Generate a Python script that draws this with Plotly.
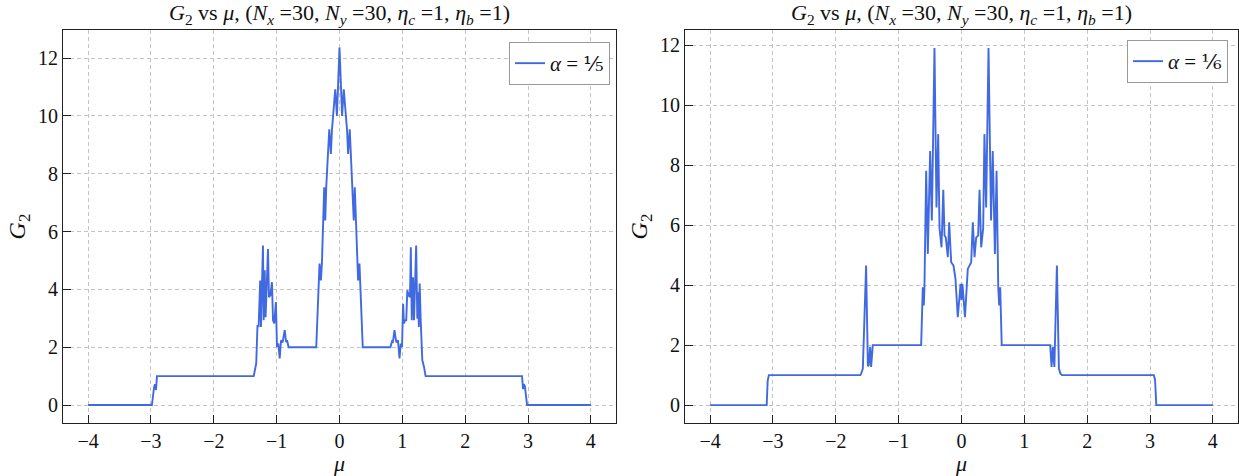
import plotly.graph_objects as go

# ---- data: alpha = 1/5 (left panel) ----
mu_a5 = [-4.0, -2.985, -2.95, -2.935, -2.92, -2.905,
         -1.365, -1.325, -1.305, -1.287, -1.262, -1.25, -1.218, -1.207, -1.19, -1.176,
         -1.155, -1.138, -1.122, -1.10, -1.075, -1.058, -1.038, -1.012, -0.995, -0.973,
         -0.952, -0.93, -0.905, -0.888, -0.872, -0.85, -0.835, -0.81,
         -0.37, -0.318, -0.296, -0.28, -0.243, -0.227, -0.211, -0.163, -0.137, -0.121,
         -0.068, -0.041, 0.0, 0.041, 0.068, 0.121, 0.137, 0.163, 0.211, 0.227, 0.243,
         0.28, 0.296, 0.318, 0.37,
         0.81, 0.835, 0.85, 0.875, 0.89, 0.905, 0.93, 0.955, 0.975, 0.995, 1.012, 1.026,
         1.042, 1.062, 1.079, 1.10, 1.122, 1.135, 1.15, 1.17, 1.186, 1.22, 1.238, 1.254,
         1.262, 1.276, 1.292, 1.318, 1.345, 1.37,
         2.905, 2.92, 2.935, 2.95, 2.985, 4.0]
g_a5 = [0.0, 0.0, 0.63, 0.72, 0.52, 1.0,
        1.0, 1.44, 2.76, 2.70, 4.31, 2.70, 5.52, 2.93, 4.66, 3.04,
        4.31, 5.40, 3.73, 3.79, 4.25, 2.93, 2.82, 3.56, 2.01, 2.13,
        1.61, 2.24, 2.17, 2.36, 2.59, 2.18, 2.24, 2.0,
        2.0, 4.89, 4.31, 4.89, 7.53, 6.38, 7.53, 9.54, 8.68, 9.48,
        10.92, 10.0, 12.36, 10.0, 10.92, 9.48, 8.68, 9.54, 7.53, 6.38, 7.53,
        4.89, 4.31, 4.89, 2.0,
        2.0, 2.2, 2.18, 2.59, 2.36, 2.17, 2.24, 1.61, 2.13, 2.01, 3.5, 2.82,
        2.93, 2.93, 3.97, 3.79, 3.73, 5.46, 2.93, 4.42, 2.93, 5.52, 2.99, 3.9,
        2.70, 4.2, 2.93, 1.55, 1.32, 1.0,
        1.0, 0.55, 0.72, 0.65, 0.0, 0.0]

# ---- data: alpha = 1/6 (right panel) ----
mu_a6 = [-4.0, -3.10, -3.085, -3.065, -1.61, -1.597, -1.57, -1.518, -1.49, -1.476,
         -1.454, -1.438, -1.412, -0.642, -0.616, -0.60, -0.59, -0.562, -0.536, -0.499,
         -0.472, -0.43, -0.398, -0.371, -0.35, -0.318, -0.29, -0.27, -0.25, -0.218,
         -0.196, -0.164, -0.127, -0.096, -0.059, -0.015, 0.0, 0.015, 0.055, 0.10,
         0.127, 0.154, 0.18, 0.207, 0.234, 0.265, 0.287, 0.313, 0.345, 0.365, 0.392,
         0.43, 0.47, 0.497, 0.532, 0.558, 0.585, 0.60, 0.616, 0.64, 1.412, 1.433,
         1.454, 1.478, 1.518, 1.55, 1.575, 1.60, 3.06, 3.08, 3.10, 4.0]
g_a6 = [0.0, 0.0, 0.8, 1.0, 1.0, 1.05, 1.22, 4.65, 1.3, 1.33,
        1.94, 1.27, 2.0, 2.0, 3.93, 3.32, 3.9, 7.81, 5.04, 8.47,
        6.15, 11.9, 6.59, 9.03, 5.9, 5.26, 7.18, 5.65, 5.59, 4.93,
        6.09, 4.76, 4.65, 4.21, 2.93, 4.04, 3.5, 4.04, 2.93, 4.54,
        4.65, 4.76, 6.09, 4.93, 5.59, 5.65, 7.18, 5.26, 5.9, 9.03, 6.59,
        11.9, 6.15, 8.47, 5.04, 7.81, 3.9, 3.32, 3.93, 2.0, 2.0, 1.27,
        1.94, 1.27, 4.65, 1.22, 1.05, 1.0, 1.0, 0.85, 0.0, 0.0]

x_ticks = [-4, -3, -2, -1, 0, 1, 2, 3, 4]
y_ticks = [0, 2, 4, 6, 8, 10, 12]

BLUE = "#4169E1"
FONT = "Liberation Serif, Times New Roman, DejaVu Serif, serif"
W, H = 1239, 476
ML, MR, MT, MB = 63, 1, 30, 53
PW = W - ML - MR
PH = H - MT - MB

def px(p):
    return (p - ML) / PW

fig = go.Figure()
fig.add_trace(go.Scatter(x=mu_a5, y=g_a5, mode="lines",
                         line=dict(color=BLUE, width=1.9),
                         name="<i>α</i> = ⅕", xaxis="x", yaxis="y", legend="legend"))
fig.add_trace(go.Scatter(x=mu_a6, y=g_a6, mode="lines",
                         line=dict(color=BLUE, width=1.9),
                         name="<i>α</i> = ⅙", xaxis="x2", yaxis="y2", legend="legend2"))

axis_common = dict(
    showline=True, linecolor="#222", linewidth=1.2, mirror=True,
    ticks="inside", ticklen=8, tickwidth=1.1, tickcolor="#222",
    showgrid=True, gridcolor="#c4c4c4", gridwidth=1, griddash="4px,3px",
    zeroline=False, automargin=False,
    tickfont=dict(family=FONT, size=20, color="#111"),
)

d1 = [0.0, px(616)]
d2 = [px(685), 1.0]

fig.update_layout(
    width=W, height=H,
    margin=dict(l=ML, r=MR, t=MT, b=MB, autoexpand=False),
    paper_bgcolor="white", plot_bgcolor="white",
    font=dict(family=FONT, size=20, color="#111"),
    xaxis=dict(domain=d1, range=[-4.4, 4.4], tickvals=x_ticks, anchor="y",
               title=dict(text="<i>μ</i>", font=dict(family=FONT, size=22), standoff=8), **axis_common),
    yaxis=dict(domain=[0, 1], range=[-0.62, 12.97], tickvals=y_ticks, anchor="x",
               title=dict(text="<i>G</i><sub>2</sub>", font=dict(family=FONT, size=24), standoff=5), **axis_common),
    xaxis2=dict(domain=d2, range=[-4.4, 4.4], tickvals=x_ticks, anchor="y2",
                title=dict(text="<i>μ</i>", font=dict(family=FONT, size=22), standoff=8), **axis_common),
    yaxis2=dict(domain=[0, 1], range=[-0.595, 12.5], tickvals=y_ticks, anchor="x2",
                title=dict(text="<i>G</i><sub>2</sub>", font=dict(family=FONT, size=24), standoff=5), **axis_common),
    legend=dict(x=px(610), y=1 - (42 - MT) / PH, xanchor="right", yanchor="top",
                bgcolor="white", bordercolor="#999", borderwidth=1,
                font=dict(family=FONT, size=21)),
    legend2=dict(x=px(1228), y=1 - (40 - MT) / PH, xanchor="right", yanchor="top",
                 bgcolor="white", bordercolor="#999", borderwidth=1,
                 font=dict(family=FONT, size=21)),
    showlegend=True,
)

title_txt = ("<i>G</i><sub>2</sub> vs <i>μ</i>, (<i>N</i><sub><i>x</i></sub> =30, "
             "<i>N</i><sub><i>y</i></sub> =30, <i>η</i><sub><i>c</i></sub> =1, "
             "<i>η</i><sub><i>b</i></sub> =1)")
for d in (d1, d2):
    fig.add_annotation(text=title_txt, xref="paper", yref="paper",
                       x=(d[0] + d[1]) / 2, y=1, xanchor="center", yanchor="bottom",
                       yshift=0, showarrow=False, font=dict(family=FONT, size=22, color="#111"))

fig.write_html("out.html", config={"displayModeBar": False},
               post_script="document.body.style.margin='0';document.body.style.overflow='hidden';")
